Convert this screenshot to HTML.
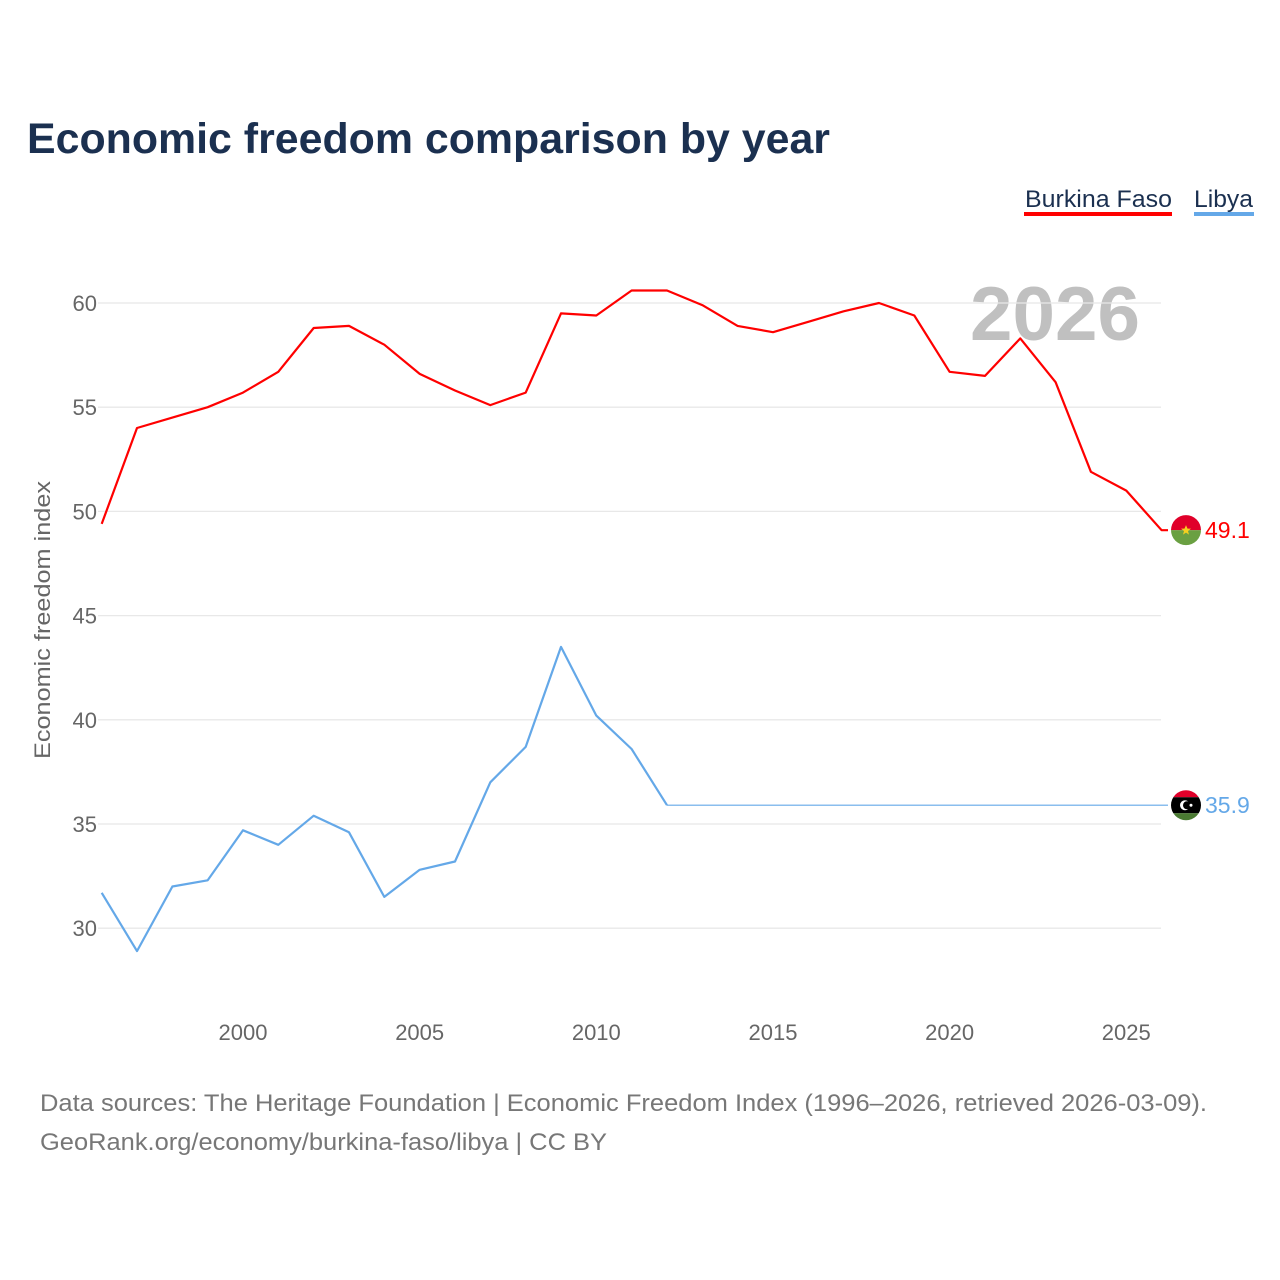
<!DOCTYPE html>
<html><head><meta charset="utf-8"><style>
html,body{margin:0;padding:0;background:#fff;}
svg{display:block;font-family:"Liberation Sans",sans-serif;}
</style></head><body>
<svg id="chart" width="1280" height="1280" viewBox="0 0 1280 1280">
<text x="27" y="153" font-size="43" font-weight="bold" fill="#1b3050" textLength="803" lengthAdjust="spacingAndGlyphs">Economic freedom comparison by year</text>
<g>
<g>
<text x="1025" y="207" font-size="24" fill="#1b3050" textLength="147" lengthAdjust="spacingAndGlyphs">Burkina Faso</text>
<rect x="1024" y="212" width="148" height="4" fill="#ff0000"/></g>
<g>
<text x="1194" y="207" font-size="24" fill="#1b3050" textLength="59" lengthAdjust="spacingAndGlyphs">Libya</text>
<rect x="1194" y="212" width="60" height="4" fill="#64a8e8"/></g>
</g>
<text x="1140" y="340" font-size="76" font-weight="bold" fill="#c0c0c0" text-anchor="end" textLength="170" lengthAdjust="spacingAndGlyphs">2026</text>
<g id="grid"></g>
<g id="yaxis"></g>
<g id="xaxis"></g>
<text transform="translate(50,620) rotate(-90)" font-size="22" fill="#666" text-anchor="middle" textLength="278" lengthAdjust="spacingAndGlyphs">Economic freedom index</text>
<g id="series"></g>
<text x="40" y="1111" font-size="24" fill="#777" textLength="1167" lengthAdjust="spacingAndGlyphs">Data sources: The Heritage Foundation | Economic Freedom Index (1996–2026, retrieved 2026-03-09).</text>
<text x="40" y="1150" font-size="24" fill="#777" textLength="567" lengthAdjust="spacingAndGlyphs">GeoRank.org/economy/burkina-faso/libya | CC BY</text>
</svg>
<script>
const years=[1996,1997,1998,1999,2000,2001,2002,2003,2004,2005,2006,2007,2008,2009,2010,2011,2012,2013,2014,2015,2016,2017,2018,2019,2020,2021,2022,2023,2024,2025,2026];
const burkina=[49.4,54.0,54.5,55.0,55.7,56.7,58.8,58.9,58.0,56.6,55.8,55.1,55.7,59.5,59.4,60.6,60.6,59.9,58.9,58.6,59.1,59.6,60.0,59.4,56.7,56.5,58.3,56.2,51.9,51.0,49.1];
const libya=[31.7,28.9,32.0,32.3,34.7,34.0,35.4,34.6,31.5,32.8,33.2,37.0,38.7,43.5,40.2,38.6,35.9,35.9,35.9,35.9,35.9,35.9,35.9,35.9,35.9,35.9,35.9,35.9,35.9,35.9,35.9];
const yTicks=[30,35,40,45,50,55,60];
const xTicks=[2000,2005,2010,2015,2020,2025];
const NS="http://www.w3.org/2000/svg";
const x=v=>101.7+(v-1996)*35.33;
const y=v=>303-(v-60)*(-20.84)*-1+0; // placeholder replaced below
const Y=v=>303+(60-v)*20.84;
function mk(t,a,p){const e=document.createElementNS(NS,t);for(const k in a)e.setAttribute(k,a[k]);p.appendChild(e);return e;}
const grid=document.getElementById('grid'),ya=document.getElementById('yaxis'),xa=document.getElementById('xaxis'),se=document.getElementById('series');
yTicks.forEach(t=>{
  const l=mk('line',{x1:98,x2:1161,y1:Y(t),y2:Y(t),stroke:'#e8e8e8','stroke-width':1.3},grid);
  
  
  const tx=mk('text',{x:97,y:Y(t)+8,'font-size':22,fill:'#666','text-anchor':'end'},ya);
  tx.textContent=t;
  
  
});
xTicks.forEach(t=>{
  const tx=mk('text',{x:x(t),y:1040,'font-size':22,fill:'#666','text-anchor':'middle'},xa);
  tx.textContent=t;
  
  
});
function line(vals,color,name,thinFrom){
  let pts=[],thin=[];
  years.forEach((yr,i)=>{const p=x(yr).toFixed(1)+','+Y(vals[i]).toFixed(1);
    if(thinFrom==null||yr<=thinFrom)pts.push(p);
    if(thinFrom!=null&&yr>=thinFrom)thin.push(p);});
  const last=vals[vals.length-1];
  if(thinFrom==null)pts.push('1168,'+Y(last).toFixed(1)); else thin.push('1168,'+Y(last).toFixed(1));
  const pl=mk('polyline',{points:pts.join(' '),fill:'none',stroke:color,'stroke-width':2.2,'stroke-linejoin':'round'},se);
  
  
  if(thin.length){const t=mk('polyline',{points:thin.join(' '),fill:'none',stroke:color,'stroke-width':1.2},se);
    
    }
  const lb=mk('text',{x:1205,y:Y(last)+8,'font-size':23,fill:color},se);
  lb.textContent=last.toFixed(1);
  
  
  return Y(last);
}
const by=line(burkina,'#ff0000','burkina-faso',null);
const ly=line(libya,'#64a8e8','libya',2012);
// flags
function flag(cy,name,top,mid,bot){
  const g=mk('g',{},se);
  
  
  const id='c'+name;
  const cp=mk('clipPath',{id:id},g);mk('circle',{cx:1186,cy:cy,r:15},cp);
  const gg=mk('g',{'clip-path':'url(#'+id+')'},g);
  if(mid){mk('rect',{x:1170,y:cy-16,width:32,height:8,fill:top},gg);mk('rect',{x:1170,y:cy-8,width:32,height:16,fill:mid},gg);mk('rect',{x:1170,y:cy+8,width:32,height:8,fill:bot},gg);
    mk('circle',{cx:1185,cy:cy,r:5,fill:'#fff'},gg);mk('circle',{cx:1187,cy:cy,r:4,fill:'#000'},gg);mk('circle',{cx:1191,cy:cy,r:1.5,fill:'#fff'},gg);}
  else{mk('rect',{x:1170,y:cy-16,width:32,height:16,fill:top},gg);mk('rect',{x:1170,y:cy,width:32,height:16,fill:bot},gg);
    mk('polygon',{points:`1186,${cy-5} 1187.5,${cy-1.5} 1191,${cy-1.5} 1188,${cy+1} 1189,${cy+4.5} 1186,${cy+2.5} 1183,${cy+4.5} 1184,${cy+1} 1181,${cy-1.5} 1184.5,${cy-1.5}`,fill:'#f5d020'},gg);}
}
flag(by,'burkina-faso','#e0002a',null,'#6aa042');
flag(ly,'libya','#e0002a','#000','#4a7a32');
</script>
</body></html>
